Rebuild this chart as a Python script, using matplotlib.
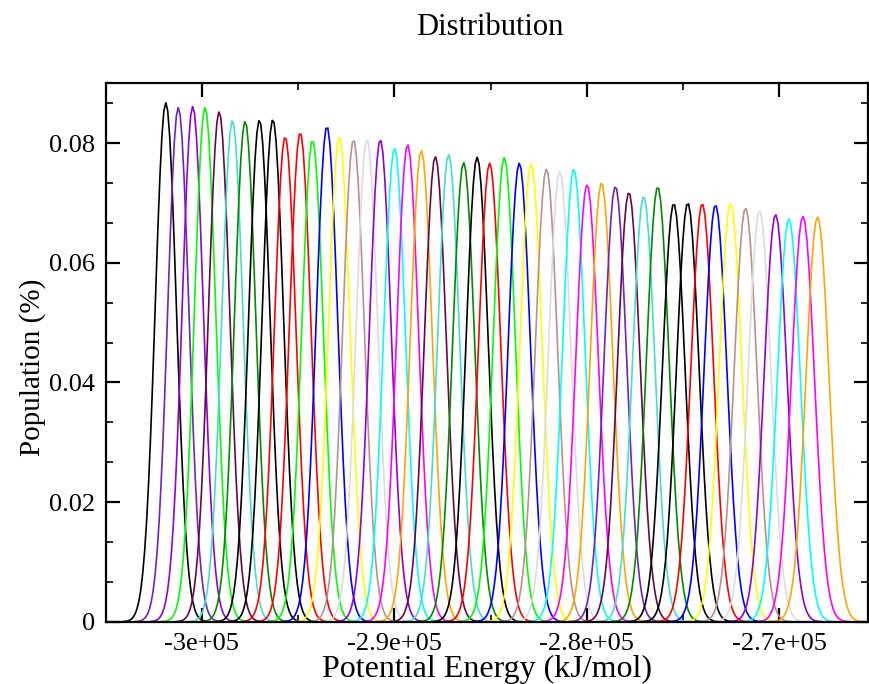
import numpy as np
import matplotlib
matplotlib.use("Agg")
import matplotlib.pyplot as plt
from matplotlib.ticker import FixedLocator, FuncFormatter

# xmgrace default palette
GRACE = {
    "black": "#000000", "red": "#ff0000", "green": "#00ff00", "blue": "#0000ff",
    "yellow": "#ffff00", "brown": "#bc8f8f", "grey": "#dcdcdc", "violet": "#9400d3",
    "cyan": "#00ffff", "magenta": "#ff00ff", "orange": "#ffa500", "indigo": "#7221bc",
    "maroon": "#670748", "turquoise": "#40e0d0", "green4": "#008b00",
}

# replica energy histograms: peak position (kJ/mol), peak population, width (kJ/mol)
centers = [
    -301870, -301220, -300470, -299830, -299100, -298410, -297750, -297010,
    -296310, -295670, -294890, -294250, -293500, -292860, -292120, -291420,
    -290730, -289990, -289310, -288600, -287870, -287180, -286400, -285700,
    -285050, -284290, -283510, -282900, -282100, -281410, -280680, -279990,
    -279240, -278520, -277820, -277050, -276320, -275490, -274760, -274010,
    -273320, -272540, -271760, -271030, -270200, -269510, -268780, -268020,
]
heights = [
    0.0868, 0.0860, 0.0862, 0.0860, 0.0853, 0.0838, 0.0837, 0.0839,
    0.0840, 0.0811, 0.0818, 0.0805, 0.0828, 0.0811, 0.0806, 0.0807,
    0.0806, 0.0792, 0.0798, 0.0788, 0.0778, 0.0781, 0.0768, 0.0777,
    0.0767, 0.0776, 0.0767, 0.0766, 0.0757, 0.0753, 0.0757, 0.0731,
    0.0734, 0.0728, 0.0718, 0.0711, 0.0727, 0.0699, 0.0700, 0.0699,
    0.0697, 0.0700, 0.0692, 0.0687, 0.0681, 0.0674, 0.0678, 0.0677,
]
widths = [
    550, 551, 552, 553, 554, 555, 556, 557,
    558, 560, 561, 562, 563, 564, 565, 566,
    567, 568, 569, 570, 571, 572, 573, 574,
    575, 576, 577, 578, 579, 580, 581, 582,
    583, 584, 585, 586, 587, 588, 589, 590,
    591, 592, 593, 594, 595, 596, 597, 598,
]
colors = [
    "black", "indigo", "violet", "green", "maroon", "turquoise", "green4", "black",
    "black", "red", "red", "green", "blue", "yellow", "brown", "grey",
    "violet", "cyan", "magenta", "orange", "maroon", "turquoise", "green4", "black",
    "red", "green", "blue", "yellow", "brown", "grey", "cyan", "magenta",
    "orange", "indigo", "maroon", "turquoise", "green4", "black", "black", "red",
    "blue", "yellow", "brown", "grey", "violet", "cyan", "magenta", "orange",
]
BIN = 100.0

x_ticks = [-300000, -290000, -280000, -270000]
x_ticklabels = ["-3e+05", "-2.9e+05", "-2.8e+05", "-2.7e+05"]
y_ticks = [0.0, 0.02, 0.04, 0.06, 0.08]
y_ticklabels = ["0", "0.02", "0.04", "0.06", "0.08"]

plt.rcParams["font.family"] = ["Liberation Serif", "DejaVu Serif"]

fig = plt.figure(figsize=(8.7, 6.84), dpi=100, facecolor="white")
ax = fig.add_axes([0.1224, 0.0911, 0.8753, 0.7871])

for c, h, w, col in zip(centers, heights, widths, colors):
    e = np.arange(c - 4.0 * w, c + 4.0 * w + BIN, BIN)
    p = h * np.exp(-0.5 * ((e - c) / w) ** 2)
    ax.plot(e, p, color=GRACE[col], lw=1.2, solid_joinstyle="miter")

ax.set_xlim(-304950, -265400)
ax.set_ylim(0, 0.09)

ax.xaxis.set_major_locator(FixedLocator(x_ticks))
ax.xaxis.set_major_formatter(FuncFormatter(
    lambda v, pos: x_ticklabels[x_ticks.index(int(round(v)))] if int(round(v)) in x_ticks else ""))
ax.xaxis.set_minor_locator(FixedLocator(np.arange(-305000, -265000, 5000)))
ax.yaxis.set_major_locator(FixedLocator(y_ticks))
ax.set_yticklabels(y_ticklabels)
ax.yaxis.set_minor_locator(FixedLocator(np.arange(0, 0.0901, 0.02 / 3)))

ax.tick_params(which="both", direction="in", top=True, right=True, colors="black")
ax.tick_params(which="major", length=10, width=1.6, labelsize=19, pad=8)
ax.tick_params(which="minor", length=5, width=1.2)
for s in ax.spines.values():
    s.set_linewidth(1.6)

ax.set_xlabel("Potential Energy (kJ/mol)", fontsize=23, labelpad=0)
ax.set_ylabel("Population (%)", fontsize=21)
ax.yaxis.set_label_coords(-0.079, 0.473)
fig.text(0.563, 0.960, "Distribution", fontsize=22, ha="center", va="center")

fig.savefig("out.png", dpi=100, facecolor="white")
